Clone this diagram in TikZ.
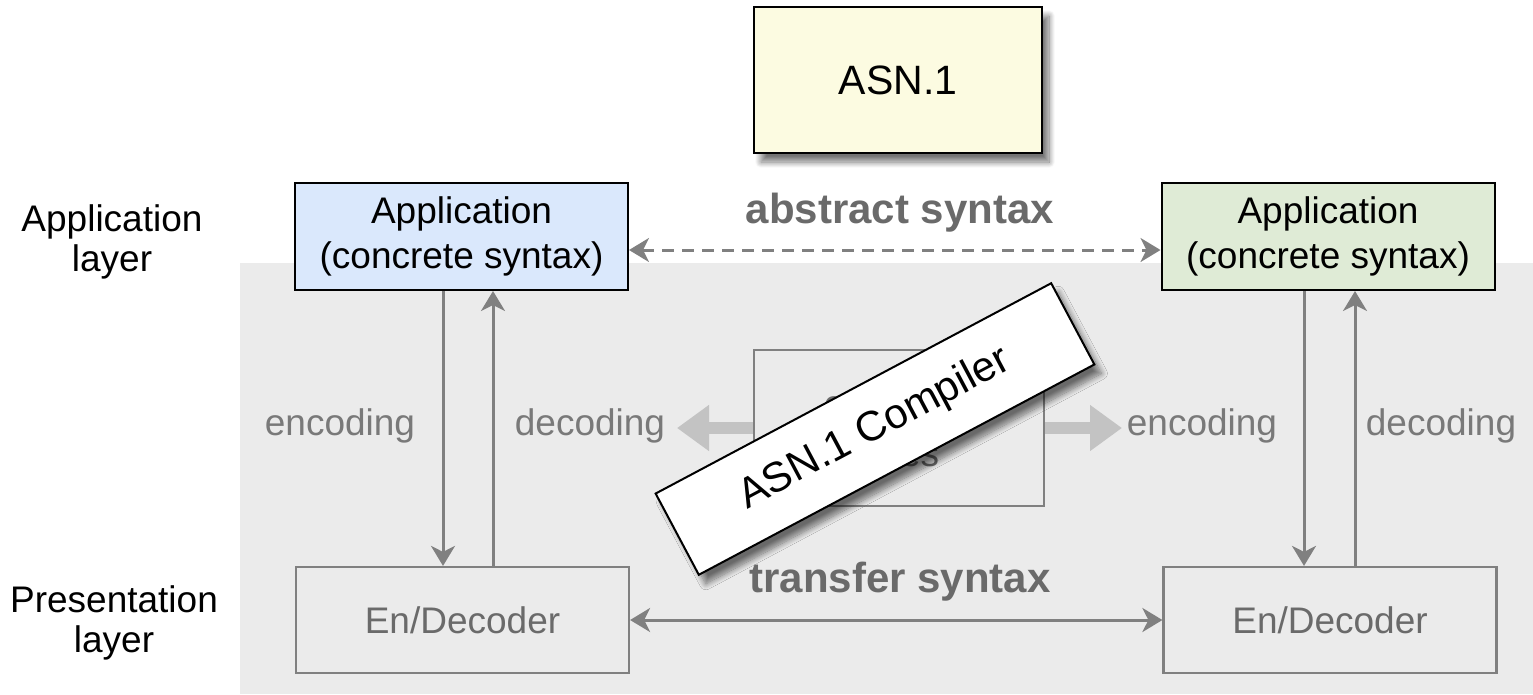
\documentclass[tikz,border=0pt]{standalone}
\usepackage{fontspec}
\setmainfont{Liberation Sans}
\usetikzlibrary{arrows.meta,shadows.blur}
\definecolor{bgray}{HTML}{EBEBEB}
\definecolor{lgray}{HTML}{808080}
\definecolor{tgray}{HTML}{6A6A6A}
\definecolor{thickgray}{HTML}{C3C3C3}
\definecolor{yel}{HTML}{FCFBE1}
\definecolor{blu}{HTML}{DAE8FC}
\definecolor{grn}{HTML}{DFEBD6}
\begin{document}
\begin{tikzpicture}[x=1pt,y=-1pt,
  reg/.style={font=\fontsize{37}{45}\selectfont},
  lbl/.style={font=\fontsize{37}{40}\selectfont,align=center,text=black},
  boldlbl/.style={font=\fontsize{42}{48}\selectfont\bfseries,text=tgray},
  sidelbl/.style={font=\fontsize{37}{45}\selectfont,text=tgray!90},
  appbox/.style={draw=black,line width=2pt,minimum width=333pt,minimum height=107pt,align=center,reg,inner sep=0pt},
  encbox/.style={draw=lgray,line width=2.2pt,minimum width=333pt,minimum height=106pt,reg,text=tgray,inner sep=0pt},
  conn/.style={draw=lgray,line width=3pt,{Stealth[length=20pt,width=24pt,inset=6pt]}-{Stealth[length=20pt,width=24pt,inset=6pt]}},
  vconn/.style={draw=lgray,line width=3pt,-{Stealth[length=20pt,width=24pt,inset=6pt]}},
  thickarr/.style={draw=thickgray,line width=12pt,-{Triangle[length=32pt,width=44pt]}},
  shad/.style={blur shadow={shadow xshift=7pt,shadow yshift=-9pt,shadow blur radius=6pt,shadow blur steps=12,shadow opacity=55}}
]
\useasboundingbox (0,0) rectangle (1533,694);
% grey layer background
\fill[bgray] (240,263) rectangle (1533,694);

% top ASN.1 box
\node[draw=black,line width=2pt,fill=yel,minimum width=288pt,minimum height=146pt,
      font=\fontsize{41}{48}\selectfont,shad] (asn) at (898,80) {ASN.1};

% layer labels
\node[lbl] (al) at (112,242) {Application\\layer};
\node[lbl] (pl) at (114,623) {Presentation\\layer};

% application boxes
\node[appbox,fill=blu] (appL) at (461.5,236.5) {Application\\(concrete syntax)};
\node[appbox,fill=grn] (appR) at (1328,236.5) {Application\\(concrete syntax)};

% en/decoders
\node[encbox] (encL) at (462.5,620) {En/Decoder};
\node[encbox] (encR) at (1330,620) {En/Decoder};

% abstract / transfer syntax
\node[boldlbl] (abs) at (900,213) {abstract syntax};
\draw[conn,dash pattern=on 12pt off 8pt] ([yshift=-13.5pt]appL.east) -- ([yshift=-13.5pt]appR.west);
\node[boldlbl] (trs) at (900,582) {transfer syntax};
\draw[conn] (encL.east) -- (encR.west);

% vertical arrows
\draw[vconn] ([xshift=-18.5pt]appL.south) -- ([xshift=-18.5pt]appL.south |- encL.north);
\draw[vconn] ([xshift=31.5pt]appL.south |- encL.north) -- ([xshift=31.5pt]appL.south);
\draw[vconn] ([xshift=-24pt]appR.south) -- ([xshift=-24pt]appR.south |- encR.north);
\draw[vconn] ([xshift=27pt]appR.south |- encR.north) -- ([xshift=27pt]appR.south);

% encoding / decoding labels
\node[sidelbl] (encl1) at (340,426) {encoding};
\node[sidelbl] (decl1) at (590,426) {decoding};
\node[sidelbl] (encl2) at (1202,426) {encoding};
\node[sidelbl] (decl2) at (1441,426) {decoding};

% encoding rules box and thick arrows
\node[draw=lgray,line width=2.2pt,minimum width=290pt,minimum height=156pt,
      font=\fontsize{37}{50}\selectfont,text=tgray,align=center] (rules) at (899,428) {encoding\\rules};
\coordinate (tl) at (677,428);
\coordinate (tr) at (1122,428);
\draw[thickarr] (rules.west) -- (tl);
\draw[thickarr] (rules.east) -- (tr);

% compiler banner
\node[draw=black,line width=2pt,fill=white,minimum width=448pt,minimum height=92pt,
      rotate=28,font=\fontsize{42}{48}\selectfont,shad] (comp) at (875,429) {ASN.1 Compiler};
\end{tikzpicture}
\end{document}
